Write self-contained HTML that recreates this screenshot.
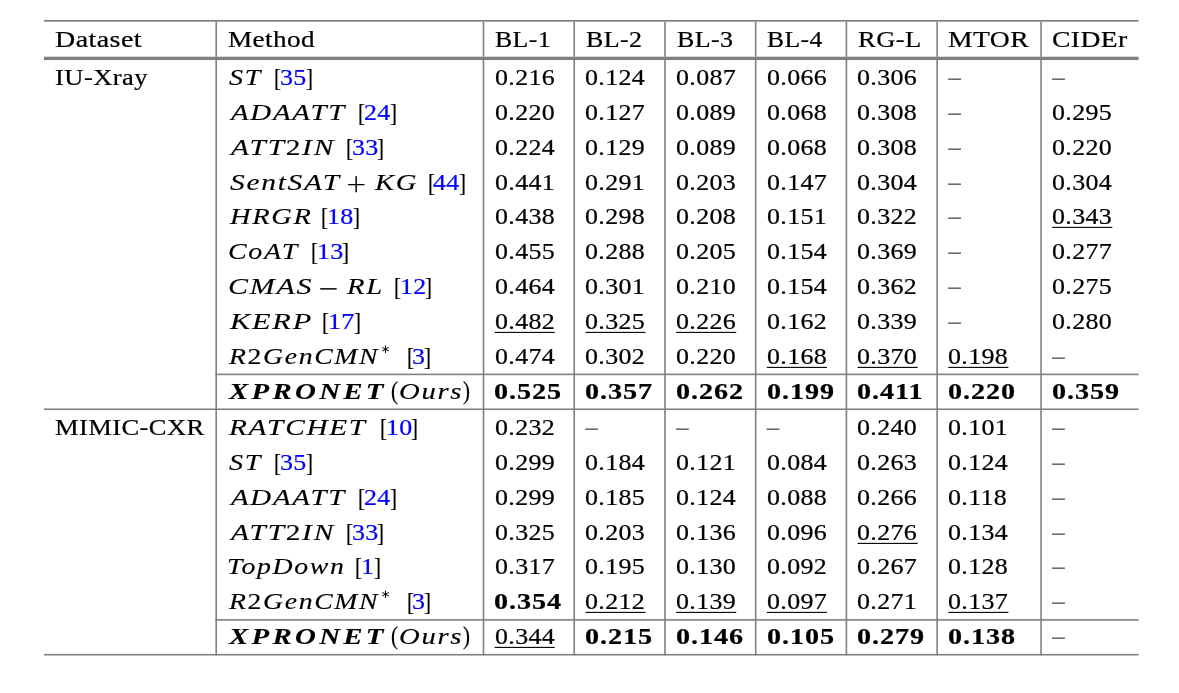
<!DOCTYPE html>
<html lang="en"><head><meta charset="utf-8"><title>Table</title>
<style>
html,body{margin:0;padding:0;background:#fff;}
body{width:1179px;height:693px;position:relative;overflow:hidden;font-family:"Liberation Serif", serif;font-size:22.2px;color:#000;}
.n{font-style:normal;}
#w{position:absolute;left:0;top:0;width:1179px;height:693px;will-change:transform;}
.t{position:absolute;white-space:pre;-webkit-text-stroke:0.22px currentColor;line-height:30px;height:30px;transform-origin:0 0;display:block;}
.r{transform:scaleX(1.17);}
.i{font-style:italic;-webkit-text-stroke-width:0.14px;transform:scaleX(1.27);}
.b{font-weight:bold;transform:scaleX(1.27);}
.bi{font-weight:bold;font-style:italic;-webkit-text-stroke-width:0.1px;transform:scaleX(1.24);}
.c{color:#0000ff;}
.op{font-family:"DejaVu Sans",sans-serif;font-weight:200;font-size:25.6px;-webkit-text-stroke:0.3px currentColor;}
.as{font-family:"DejaVu Sans",sans-serif;font-weight:400;font-size:12px;-webkit-text-stroke:0;}
.br{font-size:25.6px;transform:scaleX(0.82);}
</style></head>
<body>
<div id="w" role="table">
<svg width="1179" height="693" viewBox="0 0 1179 693" style="position:absolute;left:0;top:0"><rect x="44.00" y="19.95" width="1094.60" height="1.75" fill="#808080"/><rect x="44.00" y="56.71" width="1094.60" height="3.35" fill="#808080"/><rect x="215.40" y="373.60" width="923.20" height="1.60" fill="#808080"/><rect x="44.00" y="408.45" width="1094.60" height="1.60" fill="#808080"/><rect x="215.40" y="619.08" width="923.20" height="1.60" fill="#808080"/><rect x="44.00" y="653.90" width="1094.60" height="1.60" fill="#808080"/><rect x="215.40" y="21.60" width="1.60" height="35.20" fill="#808080"/><rect x="215.40" y="60.00" width="1.60" height="595.50" fill="#808080"/><rect x="482.70" y="21.60" width="1.60" height="35.20" fill="#808080"/><rect x="482.70" y="60.00" width="1.60" height="595.50" fill="#808080"/><rect x="573.43" y="21.60" width="1.60" height="35.20" fill="#808080"/><rect x="573.43" y="60.00" width="1.60" height="595.50" fill="#808080"/><rect x="664.16" y="21.60" width="1.60" height="35.20" fill="#808080"/><rect x="664.16" y="60.00" width="1.60" height="595.50" fill="#808080"/><rect x="754.89" y="21.60" width="1.60" height="35.20" fill="#808080"/><rect x="754.89" y="60.00" width="1.60" height="595.50" fill="#808080"/><rect x="845.62" y="21.60" width="1.60" height="35.20" fill="#808080"/><rect x="845.62" y="60.00" width="1.60" height="595.50" fill="#808080"/><rect x="936.35" y="21.60" width="1.60" height="35.20" fill="#808080"/><rect x="936.35" y="60.00" width="1.60" height="595.50" fill="#808080"/><rect x="1040.25" y="21.60" width="1.60" height="35.20" fill="#808080"/><rect x="1040.25" y="60.00" width="1.60" height="595.50" fill="#808080"/><rect x="948.10" y="78.60" width="12.90" height="1.1" fill="#2a2a2a"/><rect x="1052.00" y="78.60" width="12.90" height="1.1" fill="#2a2a2a"/><rect x="948.10" y="113.60" width="12.90" height="1.1" fill="#2a2a2a"/><rect x="948.10" y="148.60" width="12.90" height="1.1" fill="#2a2a2a"/><rect x="948.10" y="183.60" width="12.90" height="1.1" fill="#2a2a2a"/><rect x="948.10" y="217.60" width="12.90" height="1.1" fill="#2a2a2a"/><rect x="948.10" y="252.60" width="12.90" height="1.1" fill="#2a2a2a"/><rect x="948.10" y="287.60" width="12.90" height="1.1" fill="#2a2a2a"/><rect x="948.10" y="322.60" width="12.90" height="1.1" fill="#2a2a2a"/><rect x="1052.00" y="357.60" width="12.90" height="1.1" fill="#2a2a2a"/><rect x="585.18" y="428.60" width="12.90" height="1.1" fill="#2a2a2a"/><rect x="675.91" y="428.60" width="12.90" height="1.1" fill="#2a2a2a"/><rect x="766.64" y="428.60" width="12.90" height="1.1" fill="#2a2a2a"/><rect x="1052.00" y="428.60" width="12.90" height="1.1" fill="#2a2a2a"/><rect x="1052.00" y="463.60" width="12.90" height="1.1" fill="#2a2a2a"/><rect x="1052.00" y="498.60" width="12.90" height="1.1" fill="#2a2a2a"/><rect x="1052.00" y="533.60" width="12.90" height="1.1" fill="#2a2a2a"/><rect x="1052.00" y="567.60" width="12.90" height="1.1" fill="#2a2a2a"/><rect x="1052.00" y="602.60" width="12.90" height="1.1" fill="#2a2a2a"/><rect x="1052.00" y="637.60" width="12.90" height="1.1" fill="#2a2a2a"/><rect x="1052.20" y="226.85" width="60.10" height="1.1" fill="#000"/><rect x="494.65" y="331.85" width="60.10" height="1.1" fill="#000"/><rect x="585.38" y="331.85" width="60.10" height="1.1" fill="#000"/><rect x="676.11" y="331.85" width="60.10" height="1.1" fill="#000"/><rect x="766.84" y="366.85" width="60.10" height="1.1" fill="#000"/><rect x="857.57" y="366.85" width="60.10" height="1.1" fill="#000"/><rect x="948.30" y="366.85" width="60.10" height="1.1" fill="#000"/><rect x="857.57" y="542.85" width="60.10" height="1.1" fill="#000"/><rect x="585.38" y="611.85" width="60.10" height="1.1" fill="#000"/><rect x="676.11" y="611.85" width="60.10" height="1.1" fill="#000"/><rect x="766.84" y="611.85" width="60.10" height="1.1" fill="#000"/><rect x="948.30" y="611.85" width="60.10" height="1.1" fill="#000"/><rect x="494.65" y="646.85" width="60.10" height="1.1" fill="#000"/></svg>
<div class="row" role="row">
<div class="t r" style="left:54.78px;top:25.00px;letter-spacing:0.350px;transform:scaleX(1.262);">Dataset</div>
<div class="t r" style="left:228.10px;top:25.00px;letter-spacing:0.350px;transform:scaleX(1.224);">Method</div>
<div class="t r" style="left:495.13px;top:25.00px;letter-spacing:0.350px;transform:scaleX(1.163);">BL-1</div>
<div class="t r" style="left:585.93px;top:25.00px;letter-spacing:0.350px;transform:scaleX(1.171);">BL-2</div>
<div class="t r" style="left:676.53px;top:25.00px;letter-spacing:0.350px;transform:scaleX(1.170);">BL-3</div>
<div class="t r" style="left:767.24px;top:25.00px;letter-spacing:0.350px;transform:scaleX(1.152);">BL-4</div>
<div class="t r" style="left:857.81px;top:25.00px;letter-spacing:0.350px;transform:scaleX(1.198);">RG-L</div>
<div class="t r" style="left:948.19px;top:25.00px;letter-spacing:0.350px;transform:scaleX(1.244);">MTOR</div>
<div class="t r" style="left:1051.91px;top:25.00px;letter-spacing:0.350px;transform:scaleX(1.243);">CIDEr</div>
</div>
<div class="row" role="row">
<div class="t r" style="left:54.76px;top:63.00px;letter-spacing:0.350px;transform:scaleX(1.198);">IU-Xray</div>
<div class="t i" style="left:228.92px;top:63.00px;letter-spacing:1.300px;transform:scaleX(1.267);">ST</div>
<div class="t br" style="left:274.23px;top:62.90px;letter-spacing:0.000px;">[</div>
<div class="t br" style="left:305.57px;top:62.90px;letter-spacing:0.000px;">]</div>
<div class="t r" style="left:280.10px;top:63.00px;letter-spacing:0.284px;"><span class="c">35</span></div>
<div class="t r" style="left:494.52px;top:63.00px;letter-spacing:0.284px;">0.216</div>
<div class="t r" style="left:585.25px;top:63.00px;letter-spacing:0.284px;">0.124</div>
<div class="t r" style="left:675.98px;top:63.00px;letter-spacing:0.284px;">0.087</div>
<div class="t r" style="left:766.71px;top:63.00px;letter-spacing:0.284px;">0.066</div>
<div class="t r" style="left:857.44px;top:63.00px;letter-spacing:0.284px;">0.306</div>
</div>
<div class="row" role="row">
<div class="t i" style="left:230.75px;top:98.00px;letter-spacing:1.300px;transform:scaleX(1.302);">ADAATT</div>
<div class="t br" style="left:357.63px;top:97.90px;letter-spacing:0.000px;">[</div>
<div class="t br" style="left:389.77px;top:97.90px;letter-spacing:0.000px;">]</div>
<div class="t r" style="left:363.90px;top:98.00px;letter-spacing:0.284px;"><span class="c">24</span></div>
<div class="t r" style="left:494.52px;top:98.00px;letter-spacing:0.284px;">0.220</div>
<div class="t r" style="left:585.25px;top:98.00px;letter-spacing:0.284px;">0.127</div>
<div class="t r" style="left:675.98px;top:98.00px;letter-spacing:0.284px;">0.089</div>
<div class="t r" style="left:766.71px;top:98.00px;letter-spacing:0.284px;">0.068</div>
<div class="t r" style="left:857.44px;top:98.00px;letter-spacing:0.284px;">0.308</div>
<div class="t r" style="left:1052.07px;top:98.00px;letter-spacing:0.284px;">0.295</div>
</div>
<div class="row" role="row">
<div class="t i" style="left:230.78px;top:133.00px;letter-spacing:1.300px;transform:scaleX(1.324);">ATT<span class="n">2</span>IN</div>
<div class="t br" style="left:345.53px;top:132.90px;letter-spacing:0.000px;">[</div>
<div class="t br" style="left:377.17px;top:132.90px;letter-spacing:0.000px;">]</div>
<div class="t r" style="left:351.55px;top:133.00px;letter-spacing:0.284px;"><span class="c">33</span></div>
<div class="t r" style="left:494.52px;top:133.00px;letter-spacing:0.284px;">0.224</div>
<div class="t r" style="left:585.25px;top:133.00px;letter-spacing:0.284px;">0.129</div>
<div class="t r" style="left:675.98px;top:133.00px;letter-spacing:0.284px;">0.089</div>
<div class="t r" style="left:766.71px;top:133.00px;letter-spacing:0.284px;">0.068</div>
<div class="t r" style="left:857.44px;top:133.00px;letter-spacing:0.284px;">0.308</div>
<div class="t r" style="left:1052.07px;top:133.00px;letter-spacing:0.284px;">0.220</div>
</div>
<div class="row" role="row">
<div class="t i" style="left:229.51px;top:168.00px;letter-spacing:1.300px;transform:scaleX(1.327);">SentSAT</div>
<div class="t op" style="left:345.51px;top:168.10px;letter-spacing:0.000px;">+</div>
<div class="t i" style="left:374.69px;top:168.00px;letter-spacing:1.300px;transform:scaleX(1.288);">KG</div>
<div class="t br" style="left:427.53px;top:167.90px;letter-spacing:0.000px;">[</div>
<div class="t br" style="left:458.77px;top:167.90px;letter-spacing:0.000px;">]</div>
<div class="t r" style="left:433.35px;top:168.00px;letter-spacing:0.284px;"><span class="c">44</span></div>
<div class="t r" style="left:494.52px;top:168.00px;letter-spacing:0.284px;">0.441</div>
<div class="t r" style="left:585.25px;top:168.00px;letter-spacing:0.284px;">0.291</div>
<div class="t r" style="left:675.98px;top:168.00px;letter-spacing:0.284px;">0.203</div>
<div class="t r" style="left:766.71px;top:168.00px;letter-spacing:0.284px;">0.147</div>
<div class="t r" style="left:857.44px;top:168.00px;letter-spacing:0.284px;">0.304</div>
<div class="t r" style="left:1052.07px;top:168.00px;letter-spacing:0.284px;">0.304</div>
</div>
<div class="row" role="row">
<div class="t i" style="left:229.57px;top:202.00px;letter-spacing:1.300px;transform:scaleX(1.284);">HRGR</div>
<div class="t br" style="left:321.03px;top:201.90px;letter-spacing:0.000px;">[</div>
<div class="t br" style="left:352.77px;top:201.90px;letter-spacing:0.000px;">]</div>
<div class="t r" style="left:327.10px;top:202.00px;letter-spacing:0.284px;"><span class="c">18</span></div>
<div class="t r" style="left:494.52px;top:202.00px;letter-spacing:0.284px;">0.438</div>
<div class="t r" style="left:585.25px;top:202.00px;letter-spacing:0.284px;">0.298</div>
<div class="t r" style="left:675.98px;top:202.00px;letter-spacing:0.284px;">0.208</div>
<div class="t r" style="left:766.71px;top:202.00px;letter-spacing:0.284px;">0.151</div>
<div class="t r" style="left:857.44px;top:202.00px;letter-spacing:0.284px;">0.322</div>
<div class="t r" style="left:1052.07px;top:202.00px;letter-spacing:0.284px;">0.343</div>
</div>
<div class="row" role="row">
<div class="t i" style="left:227.75px;top:237.00px;letter-spacing:1.300px;transform:scaleX(1.264);">CoAT</div>
<div class="t br" style="left:310.63px;top:236.90px;letter-spacing:0.000px;">[</div>
<div class="t br" style="left:342.37px;top:236.90px;letter-spacing:0.000px;">]</div>
<div class="t r" style="left:316.70px;top:237.00px;letter-spacing:0.284px;"><span class="c">13</span></div>
<div class="t r" style="left:494.52px;top:237.00px;letter-spacing:0.284px;">0.455</div>
<div class="t r" style="left:585.25px;top:237.00px;letter-spacing:0.284px;">0.288</div>
<div class="t r" style="left:675.98px;top:237.00px;letter-spacing:0.284px;">0.205</div>
<div class="t r" style="left:766.71px;top:237.00px;letter-spacing:0.284px;">0.154</div>
<div class="t r" style="left:857.44px;top:237.00px;letter-spacing:0.284px;">0.369</div>
<div class="t r" style="left:1052.07px;top:237.00px;letter-spacing:0.284px;">0.277</div>
</div>
<div class="row" role="row">
<div class="t i" style="left:227.65px;top:272.00px;letter-spacing:1.300px;transform:scaleX(1.349);">CMAS</div>
<div class="t op" style="left:317.59px;top:272.60px;letter-spacing:0.000px;">−</div>
<div class="t i" style="left:347.38px;top:272.00px;letter-spacing:1.300px;transform:scaleX(1.293);">RL</div>
<div class="t br" style="left:393.73px;top:271.90px;letter-spacing:0.000px;">[</div>
<div class="t br" style="left:425.07px;top:271.90px;letter-spacing:0.000px;">]</div>
<div class="t r" style="left:399.60px;top:272.00px;letter-spacing:0.284px;"><span class="c">12</span></div>
<div class="t r" style="left:494.52px;top:272.00px;letter-spacing:0.284px;">0.464</div>
<div class="t r" style="left:585.25px;top:272.00px;letter-spacing:0.284px;">0.301</div>
<div class="t r" style="left:675.98px;top:272.00px;letter-spacing:0.284px;">0.210</div>
<div class="t r" style="left:766.71px;top:272.00px;letter-spacing:0.284px;">0.154</div>
<div class="t r" style="left:857.44px;top:272.00px;letter-spacing:0.284px;">0.362</div>
<div class="t r" style="left:1052.07px;top:272.00px;letter-spacing:0.284px;">0.275</div>
</div>
<div class="row" role="row">
<div class="t i" style="left:229.61px;top:307.00px;letter-spacing:1.300px;transform:scaleX(1.369);">KERP</div>
<div class="t br" style="left:322.13px;top:306.90px;letter-spacing:0.000px;">[</div>
<div class="t br" style="left:353.87px;top:306.90px;letter-spacing:0.000px;">]</div>
<div class="t r" style="left:328.20px;top:307.00px;letter-spacing:0.284px;"><span class="c">17</span></div>
<div class="t r" style="left:494.52px;top:307.00px;letter-spacing:0.284px;">0.482</div>
<div class="t r" style="left:585.25px;top:307.00px;letter-spacing:0.284px;">0.325</div>
<div class="t r" style="left:675.98px;top:307.00px;letter-spacing:0.284px;">0.226</div>
<div class="t r" style="left:766.71px;top:307.00px;letter-spacing:0.284px;">0.162</div>
<div class="t r" style="left:857.44px;top:307.00px;letter-spacing:0.284px;">0.339</div>
<div class="t r" style="left:1052.07px;top:307.00px;letter-spacing:0.284px;">0.280</div>
</div>
<div class="row" role="row">
<div class="t i" style="left:229.48px;top:342.00px;letter-spacing:1.300px;transform:scaleX(1.251);">R<span class="n">2</span>GenCMN</div>
<div class="t as" style="left:380.37px;top:334.40px;letter-spacing:0.000px;">∗</div>
<div class="t br" style="left:406.53px;top:341.90px;letter-spacing:0.000px;">[</div>
<div class="t br" style="left:424.37px;top:341.90px;letter-spacing:0.000px;">]</div>
<div class="t r" style="left:412.22px;top:342.00px;letter-spacing:0.284px;"><span class="c">3</span></div>
<div class="t r" style="left:494.52px;top:342.00px;letter-spacing:0.284px;">0.474</div>
<div class="t r" style="left:585.25px;top:342.00px;letter-spacing:0.284px;">0.302</div>
<div class="t r" style="left:675.98px;top:342.00px;letter-spacing:0.284px;">0.220</div>
<div class="t r" style="left:766.71px;top:342.00px;letter-spacing:0.284px;">0.168</div>
<div class="t r" style="left:857.44px;top:342.00px;letter-spacing:0.284px;">0.370</div>
<div class="t r" style="left:948.17px;top:342.00px;letter-spacing:0.284px;">0.198</div>
</div>
<div class="row" role="row">
<div class="t bi" style="left:229.35px;top:377.00px;letter-spacing:2.500px;transform:scaleX(1.303);">XPRONET</div>
<div class="t br" style="left:390.81px;top:376.40px;letter-spacing:0.000px;">(</div>
<div class="t i" style="left:399.29px;top:377.00px;letter-spacing:1.300px;transform:scaleX(1.293);">Ours</div>
<div class="t br" style="left:462.84px;top:376.40px;letter-spacing:0.000px;">)</div>
<div class="t b" style="left:494.31px;top:377.00px;letter-spacing:0.750px;">0.525</div>
<div class="t b" style="left:585.04px;top:377.00px;letter-spacing:0.750px;">0.357</div>
<div class="t b" style="left:675.77px;top:377.00px;letter-spacing:0.750px;">0.262</div>
<div class="t b" style="left:766.50px;top:377.00px;letter-spacing:0.750px;">0.199</div>
<div class="t b" style="left:857.23px;top:377.00px;letter-spacing:0.750px;">0.411</div>
<div class="t b" style="left:947.96px;top:377.00px;letter-spacing:0.750px;">0.220</div>
<div class="t b" style="left:1051.86px;top:377.00px;letter-spacing:0.750px;">0.359</div>
</div>
<div class="row" role="row">
<div class="t r" style="left:55.12px;top:413.00px;letter-spacing:0.350px;transform:scaleX(1.195);">MIMIC-CXR</div>
<div class="t i" style="left:229.49px;top:413.00px;letter-spacing:1.300px;transform:scaleX(1.320);">RATCHET</div>
<div class="t br" style="left:380.13px;top:412.90px;letter-spacing:0.000px;">[</div>
<div class="t br" style="left:411.37px;top:412.90px;letter-spacing:0.000px;">]</div>
<div class="t r" style="left:385.95px;top:413.00px;letter-spacing:0.284px;"><span class="c">10</span></div>
<div class="t r" style="left:494.52px;top:413.00px;letter-spacing:0.284px;">0.232</div>
<div class="t r" style="left:857.44px;top:413.00px;letter-spacing:0.284px;">0.240</div>
<div class="t r" style="left:948.17px;top:413.00px;letter-spacing:0.284px;">0.101</div>
</div>
<div class="row" role="row">
<div class="t i" style="left:228.92px;top:448.00px;letter-spacing:1.300px;transform:scaleX(1.267);">ST</div>
<div class="t br" style="left:274.23px;top:447.90px;letter-spacing:0.000px;">[</div>
<div class="t br" style="left:305.57px;top:447.90px;letter-spacing:0.000px;">]</div>
<div class="t r" style="left:280.10px;top:448.00px;letter-spacing:0.284px;"><span class="c">35</span></div>
<div class="t r" style="left:494.52px;top:448.00px;letter-spacing:0.284px;">0.299</div>
<div class="t r" style="left:585.25px;top:448.00px;letter-spacing:0.284px;">0.184</div>
<div class="t r" style="left:675.98px;top:448.00px;letter-spacing:0.284px;">0.121</div>
<div class="t r" style="left:766.71px;top:448.00px;letter-spacing:0.284px;">0.084</div>
<div class="t r" style="left:857.44px;top:448.00px;letter-spacing:0.284px;">0.263</div>
<div class="t r" style="left:948.17px;top:448.00px;letter-spacing:0.284px;">0.124</div>
</div>
<div class="row" role="row">
<div class="t i" style="left:230.75px;top:483.00px;letter-spacing:1.300px;transform:scaleX(1.302);">ADAATT</div>
<div class="t br" style="left:357.63px;top:482.90px;letter-spacing:0.000px;">[</div>
<div class="t br" style="left:389.77px;top:482.90px;letter-spacing:0.000px;">]</div>
<div class="t r" style="left:363.90px;top:483.00px;letter-spacing:0.284px;"><span class="c">24</span></div>
<div class="t r" style="left:494.52px;top:483.00px;letter-spacing:0.284px;">0.299</div>
<div class="t r" style="left:585.25px;top:483.00px;letter-spacing:0.284px;">0.185</div>
<div class="t r" style="left:675.98px;top:483.00px;letter-spacing:0.284px;">0.124</div>
<div class="t r" style="left:766.71px;top:483.00px;letter-spacing:0.284px;">0.088</div>
<div class="t r" style="left:857.44px;top:483.00px;letter-spacing:0.284px;">0.266</div>
<div class="t r" style="left:948.17px;top:483.00px;letter-spacing:0.284px;">0.118</div>
</div>
<div class="row" role="row">
<div class="t i" style="left:230.78px;top:518.00px;letter-spacing:1.300px;transform:scaleX(1.324);">ATT<span class="n">2</span>IN</div>
<div class="t br" style="left:345.53px;top:517.90px;letter-spacing:0.000px;">[</div>
<div class="t br" style="left:377.17px;top:517.90px;letter-spacing:0.000px;">]</div>
<div class="t r" style="left:351.55px;top:518.00px;letter-spacing:0.284px;"><span class="c">33</span></div>
<div class="t r" style="left:494.52px;top:518.00px;letter-spacing:0.284px;">0.325</div>
<div class="t r" style="left:585.25px;top:518.00px;letter-spacing:0.284px;">0.203</div>
<div class="t r" style="left:675.98px;top:518.00px;letter-spacing:0.284px;">0.136</div>
<div class="t r" style="left:766.71px;top:518.00px;letter-spacing:0.284px;">0.096</div>
<div class="t r" style="left:857.44px;top:518.00px;letter-spacing:0.284px;">0.276</div>
<div class="t r" style="left:948.17px;top:518.00px;letter-spacing:0.284px;">0.134</div>
</div>
<div class="row" role="row">
<div class="t i" style="left:227.47px;top:552.00px;letter-spacing:1.300px;transform:scaleX(1.252);">TopDown</div>
<div class="t br" style="left:355.13px;top:551.90px;letter-spacing:0.000px;">[</div>
<div class="t br" style="left:373.67px;top:551.90px;letter-spacing:0.000px;">]</div>
<div class="t r" style="left:361.18px;top:552.00px;letter-spacing:0.284px;"><span class="c">1</span></div>
<div class="t r" style="left:494.52px;top:552.00px;letter-spacing:0.284px;">0.317</div>
<div class="t r" style="left:585.25px;top:552.00px;letter-spacing:0.284px;">0.195</div>
<div class="t r" style="left:675.98px;top:552.00px;letter-spacing:0.284px;">0.130</div>
<div class="t r" style="left:766.71px;top:552.00px;letter-spacing:0.284px;">0.092</div>
<div class="t r" style="left:857.44px;top:552.00px;letter-spacing:0.284px;">0.267</div>
<div class="t r" style="left:948.17px;top:552.00px;letter-spacing:0.284px;">0.128</div>
</div>
<div class="row" role="row">
<div class="t i" style="left:229.48px;top:587.00px;letter-spacing:1.300px;transform:scaleX(1.251);">R<span class="n">2</span>GenCMN</div>
<div class="t as" style="left:380.37px;top:579.40px;letter-spacing:0.000px;">∗</div>
<div class="t br" style="left:406.53px;top:586.90px;letter-spacing:0.000px;">[</div>
<div class="t br" style="left:424.37px;top:586.90px;letter-spacing:0.000px;">]</div>
<div class="t r" style="left:412.22px;top:587.00px;letter-spacing:0.284px;"><span class="c">3</span></div>
<div class="t b" style="left:494.31px;top:587.00px;letter-spacing:0.750px;">0.354</div>
<div class="t r" style="left:585.25px;top:587.00px;letter-spacing:0.284px;">0.212</div>
<div class="t r" style="left:675.98px;top:587.00px;letter-spacing:0.284px;">0.139</div>
<div class="t r" style="left:766.71px;top:587.00px;letter-spacing:0.284px;">0.097</div>
<div class="t r" style="left:857.44px;top:587.00px;letter-spacing:0.284px;">0.271</div>
<div class="t r" style="left:948.17px;top:587.00px;letter-spacing:0.284px;">0.137</div>
</div>
<div class="row" role="row">
<div class="t bi" style="left:229.35px;top:622.00px;letter-spacing:2.500px;transform:scaleX(1.303);">XPRONET</div>
<div class="t br" style="left:390.81px;top:621.40px;letter-spacing:0.000px;">(</div>
<div class="t i" style="left:399.29px;top:622.00px;letter-spacing:1.300px;transform:scaleX(1.293);">Ours</div>
<div class="t br" style="left:462.84px;top:621.40px;letter-spacing:0.000px;">)</div>
<div class="t r" style="left:494.52px;top:622.00px;letter-spacing:0.284px;">0.344</div>
<div class="t b" style="left:585.04px;top:622.00px;letter-spacing:0.750px;">0.215</div>
<div class="t b" style="left:675.77px;top:622.00px;letter-spacing:0.750px;">0.146</div>
<div class="t b" style="left:766.50px;top:622.00px;letter-spacing:0.750px;">0.105</div>
<div class="t b" style="left:857.23px;top:622.00px;letter-spacing:0.750px;">0.279</div>
<div class="t b" style="left:947.96px;top:622.00px;letter-spacing:0.750px;">0.138</div>
</div>
</div>
</body></html>
